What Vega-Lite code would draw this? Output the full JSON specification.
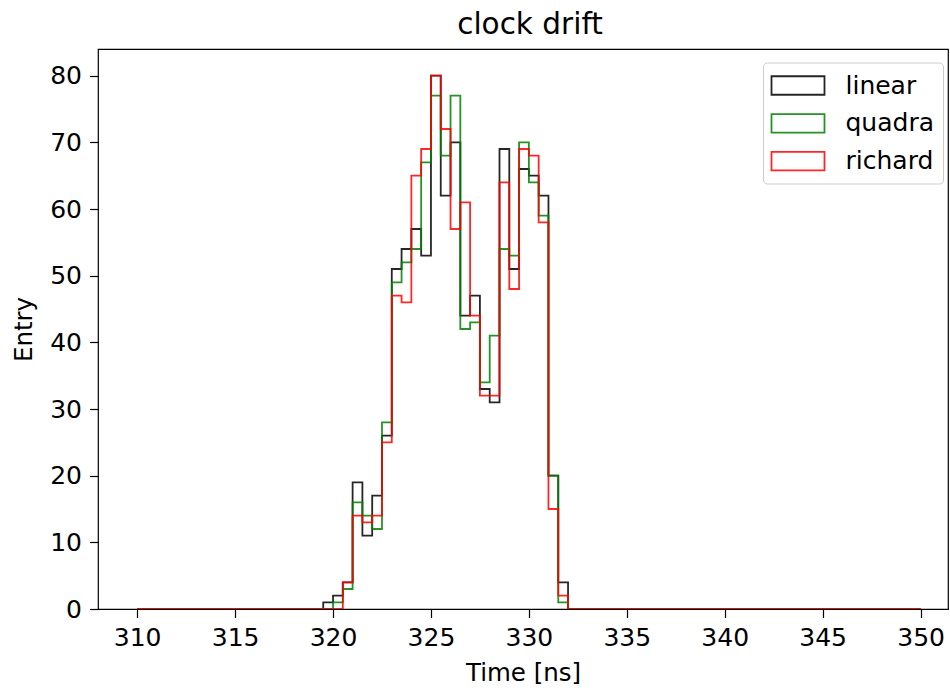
{
  "$schema": "https://vega.github.io/schema/vega-lite/v6.json",
  "width": 850,
  "height": 560,
  "autosize": {"type": "none"},
  "padding": {"left": 98, "top": 49, "right": 2, "bottom": 83},
  "background": "white",
  "title": {"text": "clock drift", "fontSize": 29.5, "font": "DejaVu Sans", "fontWeight": "normal", "color": "black", "baseline": "bottom", "offset": 8, "dx": 7, "dy": 28},
  "data": {"values": [
    {"t":310,"linear":0,"quadra":0,"richard":0},
    {"t":310.5,"linear":0,"quadra":0,"richard":0},
    {"t":311,"linear":0,"quadra":0,"richard":0},
    {"t":311.5,"linear":0,"quadra":0,"richard":0},
    {"t":312,"linear":0,"quadra":0,"richard":0},
    {"t":312.5,"linear":0,"quadra":0,"richard":0},
    {"t":313,"linear":0,"quadra":0,"richard":0},
    {"t":313.5,"linear":0,"quadra":0,"richard":0},
    {"t":314,"linear":0,"quadra":0,"richard":0},
    {"t":314.5,"linear":0,"quadra":0,"richard":0},
    {"t":315,"linear":0,"quadra":0,"richard":0},
    {"t":315.5,"linear":0,"quadra":0,"richard":0},
    {"t":316,"linear":0,"quadra":0,"richard":0},
    {"t":316.5,"linear":0,"quadra":0,"richard":0},
    {"t":317,"linear":0,"quadra":0,"richard":0},
    {"t":317.5,"linear":0,"quadra":0,"richard":0},
    {"t":318,"linear":0,"quadra":0,"richard":0},
    {"t":318.5,"linear":0,"quadra":0,"richard":0},
    {"t":319,"linear":0,"quadra":0,"richard":0},
    {"t":319.5,"linear":1,"quadra":0,"richard":0},
    {"t":320,"linear":2,"quadra":1,"richard":0},
    {"t":320.5,"linear":4,"quadra":3,"richard":4},
    {"t":321,"linear":19,"quadra":16,"richard":14},
    {"t":321.5,"linear":11,"quadra":14,"richard":13},
    {"t":322,"linear":17,"quadra":12,"richard":14},
    {"t":322.5,"linear":26,"quadra":28,"richard":25},
    {"t":323,"linear":51,"quadra":49,"richard":47},
    {"t":323.5,"linear":54,"quadra":52,"richard":46},
    {"t":324,"linear":57,"quadra":54,"richard":65},
    {"t":324.5,"linear":53,"quadra":67,"richard":69},
    {"t":325,"linear":80,"quadra":77,"richard":80},
    {"t":325.5,"linear":62,"quadra":68,"richard":72},
    {"t":326,"linear":70,"quadra":77,"richard":57},
    {"t":326.5,"linear":44,"quadra":42,"richard":61},
    {"t":327,"linear":47,"quadra":43,"richard":44},
    {"t":327.5,"linear":33,"quadra":34,"richard":32},
    {"t":328,"linear":31,"quadra":41,"richard":32},
    {"t":328.5,"linear":69,"quadra":54,"richard":64},
    {"t":329,"linear":51,"quadra":53,"richard":48},
    {"t":329.5,"linear":66,"quadra":70,"richard":69},
    {"t":330,"linear":65,"quadra":64,"richard":68},
    {"t":330.5,"linear":62,"quadra":59,"richard":58},
    {"t":331,"linear":20,"quadra":20,"richard":15},
    {"t":331.5,"linear":4,"quadra":1,"richard":2},
    {"t":332,"linear":0,"quadra":0,"richard":0},
    {"t":332.5,"linear":0,"quadra":0,"richard":0},
    {"t":333,"linear":0,"quadra":0,"richard":0},
    {"t":333.5,"linear":0,"quadra":0,"richard":0},
    {"t":334,"linear":0,"quadra":0,"richard":0},
    {"t":334.5,"linear":0,"quadra":0,"richard":0},
    {"t":335,"linear":0,"quadra":0,"richard":0},
    {"t":335.5,"linear":0,"quadra":0,"richard":0},
    {"t":336,"linear":0,"quadra":0,"richard":0},
    {"t":336.5,"linear":0,"quadra":0,"richard":0},
    {"t":337,"linear":0,"quadra":0,"richard":0},
    {"t":337.5,"linear":0,"quadra":0,"richard":0},
    {"t":338,"linear":0,"quadra":0,"richard":0},
    {"t":338.5,"linear":0,"quadra":0,"richard":0},
    {"t":339,"linear":0,"quadra":0,"richard":0},
    {"t":339.5,"linear":0,"quadra":0,"richard":0},
    {"t":340,"linear":0,"quadra":0,"richard":0},
    {"t":340.5,"linear":0,"quadra":0,"richard":0},
    {"t":341,"linear":0,"quadra":0,"richard":0},
    {"t":341.5,"linear":0,"quadra":0,"richard":0},
    {"t":342,"linear":0,"quadra":0,"richard":0},
    {"t":342.5,"linear":0,"quadra":0,"richard":0},
    {"t":343,"linear":0,"quadra":0,"richard":0},
    {"t":343.5,"linear":0,"quadra":0,"richard":0},
    {"t":344,"linear":0,"quadra":0,"richard":0},
    {"t":344.5,"linear":0,"quadra":0,"richard":0},
    {"t":345,"linear":0,"quadra":0,"richard":0},
    {"t":345.5,"linear":0,"quadra":0,"richard":0},
    {"t":346,"linear":0,"quadra":0,"richard":0},
    {"t":346.5,"linear":0,"quadra":0,"richard":0},
    {"t":347,"linear":0,"quadra":0,"richard":0},
    {"t":347.5,"linear":0,"quadra":0,"richard":0},
    {"t":348,"linear":0,"quadra":0,"richard":0},
    {"t":348.5,"linear":0,"quadra":0,"richard":0},
    {"t":349,"linear":0,"quadra":0,"richard":0},
    {"t":349.5,"linear":0,"quadra":0,"richard":0},
    {"t":350,"linear":0,"quadra":0,"richard":0}
  ]},
  "transform": [{"fold": ["linear", "quadra", "richard"], "as": ["series", "entry"]}],
  "mark": {"type": "line", "interpolate": "step-after", "strokeWidth": 1.8, "opacity": 0.85, "clip": true},
  "encoding": {
    "x": {"field": "t", "type": "quantitative", "title": "Time [ns]",
      "scale": {"domain": [308, 351.4], "nice": false, "zero": false},
      "axis": {"values": [310, 315, 320, 325, 330, 335, 340, 345, 350], "titlePadding": 11}},
    "y": {"field": "entry", "type": "quantitative", "title": "Entry",
      "scale": {"domain": [0, 84], "nice": false},
      "axis": {"values": [0, 10, 20, 30, 40, 50, 60, 70, 80], "titlePadding": 13}},
    "color": {"field": "series", "type": "nominal",
      "scale": {"domain": ["linear", "quadra", "richard"], "range": ["#000000", "#008000", "#ff0000"]},
      "legend": {"title": null, "orient": "none", "legendX": 665, "legendY": 13.5}}
  },
  "config": {
    "font": "DejaVu Sans",
    "view": {"stroke": "black", "strokeWidth": 1.2},
    "axis": {"grid": false, "domain": false, "ticks": true, "tickColor": "black", "tickWidth": 1.2, "tickSize": 8.5,
      "labelFont": "DejaVu Sans", "labelFontSize": 25, "labelColor": "black", "labelPadding": 8,
      "titleFont": "DejaVu Sans", "titleFontSize": 24.5, "titleFontWeight": "normal", "titleColor": "black", "labelFlush": false},
    "legend": {"labelFont": "DejaVu Sans", "labelFontSize": 25, "labelColor": "black",
      "symbolType": "M-2,-0.7H2V0.7H-2Z", "symbolSize": 702, "symbolStrokeWidth": 1.8, "symbolOpacity": 0.85,
      "symbolFillColor": "transparent", "symbolOffset": 12, "labelOffset": 33,
      "padding": 8.5, "rowPadding": 9.8, "fillColor": "rgba(255,255,255,0.8)", "strokeColor": "#cccccc", "cornerRadius": 4}
  }
}
